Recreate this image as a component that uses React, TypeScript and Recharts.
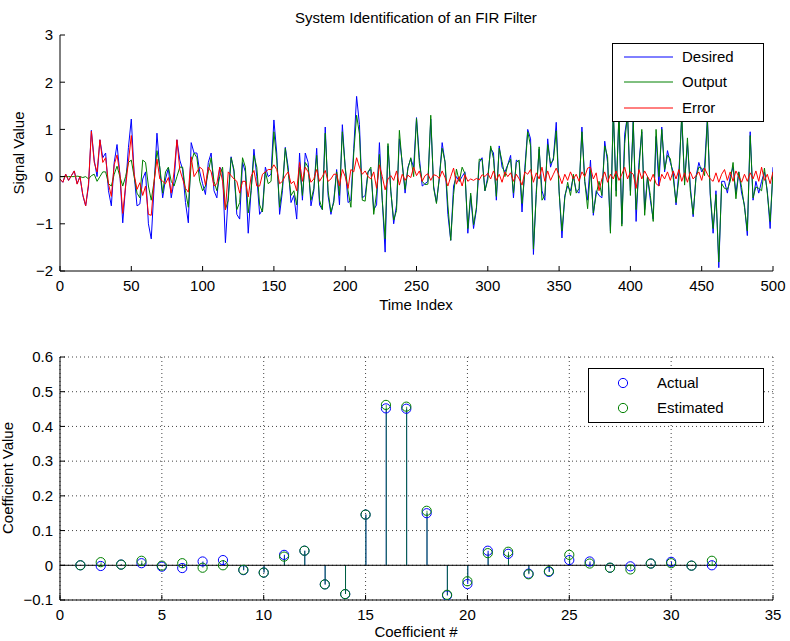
import React from 'react';
import {
  LineChart, Line, XAxis, YAxis, ComposedChart, Bar, Scatter, CartesianGrid, ReferenceLine,
} from 'recharts';

// sample index (every 2nd sample of the 500-sample run)
const timeIndex = Array.from({ length: 251 }, (_, i) => i * 2);

const desired = [
  -0.05, -0.12, 0.05, -0.08, 0.02, 0.12, -0.15, 0.0, -0.4, -0.62,
  -0.2, 0.98, 0.35, 0.0, 0.78, 0.4, 0.5, -0.3, -0.62, 0.3,
  0.68, 0.05, -0.98, -0.2, 0.62, 1.22, 0.05, -0.62, -0.58, -0.05,
  0.1, -1.0, -1.32, -0.2, 0.92, 0.15, -0.45, -0.05, 0.18, -0.45,
  -0.1, 0.78, 0.35, 0.15, -0.55, -0.98, 0.72, 0.5, 0.5, 0.1,
  -0.15, -0.38, 0.3, 0.5, -0.3, -0.45, 0.2, 0.1, -1.4, -0.4,
  0.42, 0.1, -0.8, -0.9, 0.3, 0.1, -1.2, -0.3, 0.58, 0.0,
  -0.8, -0.7, 0.2, 0.0, 0.05, 1.2, 0.5, -0.8, -0.3, 0.62,
  0.2, -0.55, -0.4, -0.9, 0.5, -0.5, 0.5, 0.3, -0.62, -0.3,
  0.6, -0.6, -0.7, 1.05, -0.4, -0.8, -0.5, 0.15, -0.6, 1.1,
  0.2, -0.55, -0.5, 0.6, 1.7, 1.1, -0.45, -0.4, 0.1, 0.15,
  -0.7, -0.6, 0.72, -0.5, -1.6, 0.65, -0.3, -1.0, -0.6, 0.8,
  0.3, -0.35, 0.2, 0.38, 0.2, 1.25, 0.4, -0.2, -0.15, -0.1,
  1.22, -0.2, -0.55, -0.05, 0.72, 0.3, -0.8, -1.35, -0.2, 0.0,
  -0.1, 0.0, 0.1, -1.2, -0.4, -1.1, -0.7, 0.3, 0.4, -0.3,
  0.0, 0.6, 0.5, -0.5, 0.65, 0.2, 0.1, 0.25, 0.45, -0.45,
  0.35, 0.3, -0.75, 0.2, 1.0, 0.8, -1.65, -0.3, 0.58, -0.3,
  -0.5, 0.8, 0.2, 0.4, 1.15, -0.3, -1.3, -0.4, -0.2, -0.3,
  0.0, -0.3, -0.35, 1.05, -0.1, -0.5, 0.35, -0.82, -0.3, -0.4,
  -0.45, 0.75, 0.3, -1.15, 1.4, -0.3, 1.3, -1.0, 0.9, 1.3,
  -0.3, 1.2, -0.95, 0.3, 0.95, -0.7, 0.0, -0.5, -0.9, 0.85,
  -0.2, 1.05, 0.1, 0.55, 0.3, 0.1, -0.6, 0.1, 1.25, -0.1,
  0.7, -0.2, -0.85, 0.0, 0.3, 0.1, 0.2, 1.25, -0.4, -1.2,
  -0.3, -1.93, -0.1, -0.1, -0.35, 0.0, 0.2, -0.35, 0.1, -0.35,
  -0.6, -1.25, 0.95, -0.5, -0.1, -0.35, -0.1, 0.1, -0.3, -1.1,
  0.2,
];

const output = [
  0, 0, 0, 0, 0, 0, 0.01, 0, -0.02, 0,
  -0.05, 0.02, 0.05, -0.1, 0, 0.1, 0.1, -0.15, -0.2, 0.05,
  0.22, 0, -0.2, 0, 0.3, 0.35, 0, -0.35, -0.45, 0.35,
  0.3, -0.2, -0.5, -0.1, 0.55, 0.2, -0.35, 0.1, 0.2, -0.1,
  -0.2, 0, 0.2, 0.2, -0.3, -0.65, 0.3, 0.5, 0.4, -0.1,
  -0.3, -0.2, 0.1, 0.4, -0.1, -0.3, 0.0, 0.2, -0.7, -0.5,
  0.4, 0.15, -0.7, -0.55, 0.4, 0.2, -0.77, -0.3, 0.45, 0.2,
  -0.6, -0.75, 0.1, -0.15, -0.1, 0.95, 0.35, -0.65, -0.2, 0.6,
  0.1, -0.4, -0.3, -0.6, 0.2, -0.4, 0.3, 0.2, -0.5, -0.25,
  0.45, -0.5, -0.7, 0.92, -0.3, -0.75, -0.55, 0.1, -0.4, 0.95,
  0.2, -0.3, -0.65, 0.5, 1.3, 0.9, -0.5, -0.52, 0.1, 0.2,
  -0.8, -0.35, 0.47, -0.5, -1.32, 0.7, -0.32, -0.92, -0.72, 0.98,
  0.25, -0.27, 0.17, 0.4, 0.0, 1.23, 0.28, -0.1, -0.17, -0.16,
  1.3, -0.24, -0.57, -0.01, 0.6, 0.32, -0.6, -1.35, -0.38, 0.16,
  -0.1, 0.2, 0.06, -1.1, -0.35, -1.02, -0.66, 0.37, 0.36, -0.3,
  -0.07, 0.65, 0.38, -0.42, 0.6, 0.32, 0.0, 0.25, 0.37, -0.35,
  0.3, 0.35, -0.57, 0.1, 0.95, 0.65, -1.53, -0.38, 0.63, -0.5,
  -0.4, 0.68, 0.28, 0.35, 0.97, -0.32, -1.15, -0.45, -0.12, -0.4,
  0.05, -0.35, -0.25, 0.95, -0.1, -0.68, 0.15, -0.77, -0.38, -0.1,
  -0.4, 0.65, 0.42, -1.2, 1.45, -0.42, 1.38, -1.05, 0.7, 1.35,
  -0.4, 1.15, -0.7, 0.15, 1.0, -0.82, 0.0, -0.4, -0.95, 1.0,
  0.0, 1.0, 0.15, 0.45, 0.38, -0.02, -0.55, -0.05, 1.35, -0.18,
  0.82, -0.3, -0.8, -0.02, 0.2, 0.18, 0.02, 1.2, -0.35, -1.1,
  -0.38, -1.81, -0.15, -0.25, -0.27, -0.1, 0.3, -0.47, 0.1, -0.23,
  -0.65, -1.15, 0.87, -0.45, -0.22, -0.25, -0.3, 0.18, -0.35, -0.95,
  0.1,
];

const error = [
  -0.05, -0.12, 0.05, -0.08, 0.02, 0.12, -0.16, 0, -0.38, -0.62,
  -0.15, 0.96, 0.3, 0.1, 0.78, 0.3, 0.4, -0.15, -0.42, 0.25,
  0.46, 0.05, -0.78, -0.2, 0.32, 0.87, 0.05, -0.27, -0.13, -0.4,
  -0.2, -0.8, -0.82, -0.1, 0.37, -0.05, -0.1, -0.15, -0.02, -0.35,
  0.1, 0.78, 0.15, -0.05, -0.25, -0.33, 0.42, 0, 0.1, 0.2,
  0.15, -0.18, 0.2, 0.1, -0.2, -0.15, 0.2, -0.1, -0.7, 0.1,
  0.02, -0.05, -0.1, -0.35, -0.1, -0.1, -0.43, 0, 0.13, -0.2,
  -0.2, 0.05, 0.1, 0.15, 0.15, 0.25, 0.15, -0.15, -0.1, 0.02,
  0.1, -0.15, -0.1, -0.3, 0.3, -0.1, 0.2, 0.1, -0.12, -0.05,
  0.15, -0.1, 0, 0.13, -0.1, -0.05, 0.05, 0.05, -0.2, 0.15,
  0, -0.25, 0.15, 0.1, 0.4, 0.2, 0.05, 0.12, 0, -0.05,
  0.1, -0.25, 0.25, 0, -0.28, -0.05, 0.02, -0.08, 0.12, -0.18,
  0.05, -0.08, 0.03, -0.02, 0.2, 0.02, 0.12, -0.1, 0.02, 0.06,
  -0.08, 0.04, 0.02, -0.04, 0.12, -0.02, -0.2, 0, 0.18, -0.16,
  0, -0.2, 0.04, -0.1, -0.05, -0.08, -0.04, -0.07, 0.04, 0,
  0.07, -0.05, 0.12, -0.08, 0.05, -0.12, 0.1, 0, 0.08, -0.1,
  0.05, -0.05, -0.18, 0.1, 0.05, 0.15, -0.12, 0.08, -0.05, 0.2,
  -0.1, 0.12, -0.08, 0.05, 0.18, 0.02, -0.15, 0.05, -0.08, 0.1,
  -0.05, 0.05, -0.1, 0.1, 0, 0.18, 0.2, -0.05, 0.08, -0.3,
  -0.05, 0.1, -0.12, 0.05, -0.05, 0.12, -0.08, 0.05, 0.2, -0.05,
  0.1, 0.05, -0.25, 0.15, -0.05, 0.12, 0, -0.1, 0.05, -0.15,
  -0.2, 0.05, -0.05, 0.1, -0.08, 0.12, -0.05, 0.15, -0.1, 0.08,
  -0.12, 0.1, -0.05, 0.02, 0.1, -0.08, 0.18, 0.05, -0.05, -0.1,
  0.08, -0.12, 0.05, 0.15, -0.08, 0.1, -0.1, 0.12, 0, -0.12,
  0.05, -0.1, 0.08, -0.05, 0.12, -0.1, 0.2, -0.08, 0.05, -0.15,
  0.1,
];

const coeffIndex = [1, 2, 3, 4, 5, 6, 7, 8, 9, 10, 11, 12, 13, 14, 15, 16, 17, 18, 19, 20, 21, 22, 23, 24, 25, 26, 27, 28, 29, 30, 31, 32];
const actual = [
  0, -0.002, 0.002, 0.006, -0.004, -0.008, 0.011, 0.015, -0.014, -0.021, 0.03, 0.042, -0.055, -0.083, 0.146, 0.452,
  0.451, 0.15, -0.087, -0.054, 0.042, 0.033, -0.024, -0.019, 0.015, 0.011, -0.007, -0.003, 0.005, 0.01, -0.001, 0,
];
const estimated = [
  0, 0.009, 0.002, 0.013, -0.001, 0.006, -0.007, 0, -0.013, -0.021, 0.025, 0.042, -0.055, -0.083, 0.146, 0.462,
  0.457, 0.157, -0.085, -0.046, 0.035, 0.039, -0.026, -0.017, 0.03, 0.005, -0.007, -0.012, 0.005, 0.006, -0.001, 0.013,
];

const timeTicks = [0, 50, 100, 150, 200, 250, 300, 350, 400, 450, 500];
const signalTicks = [-2, -1, 0, 1, 2, 3];
const coeffTicks = [0, 5, 10, 15, 20, 25, 30, 35];
const valueTicks = [-0.1, 0, 0.1, 0.2, 0.3, 0.4, 0.5, 0.6];

const FONT = '"Liberation Sans", Arial, Helvetica, sans-serif';
const BLUE = '#0000ff';
const GREEN = '#008000';
const RED = '#ff0000';
const tickStyle = { fontSize: 15, fill: '#000', fontFamily: FONT };
const noLabel = () => '';
const fmtSigned = (v: number) => (v < 0 ? '\u2212' + String(Math.abs(v)) : String(v));
const fmtCoef = (v: number) => {
  if (Math.abs(v) < 1e-9) return '0';
  const s = Math.abs(v).toFixed(1);
  return v < 0 ? '\u2212' + s : s;
};

const signalData = timeIndex.map((t, i) => ({ t, desired: desired[i], output: output[i], error: error[i] }));
const coeffData = coeffIndex.map((k, i) => ({ k, actual: actual[i], estimated: estimated[i] }));

const Ring = (color: string) => (props: any) => {
  const { cx, cy } = props;
  if (cx == null || cy == null) return null;
  return <circle cx={cx} cy={cy} r={4.6} fill="none" stroke={color} strokeWidth={1} />;
};

export default function App() {
  return (
    <div style={{ position: 'absolute', left: 0, top: 0, width: 790, height: 641, background: '#fff', fontFamily: FONT }}>
      <div style={{ position: 'absolute', left: 0, top: 0 }}>
        <LineChart width={790} height={320} data={signalData} margin={{ top: 35, right: 17, bottom: 19, left: 10 }}>
          <XAxis dataKey="t" type="number" domain={[0, 500]} ticks={timeTicks} height={30}
            tick={tickStyle} tickSize={-5} tickMargin={14} stroke="#000" allowDataOverflow />
          <XAxis xAxisId="top" orientation="top" dataKey="t" type="number" domain={[0, 500]} ticks={timeTicks}
            height={0} mirror tickSize={5} tickFormatter={noLabel} stroke="#000" />
          <YAxis type="number" domain={[-2, 3]} ticks={signalTicks} width={50} tick={tickStyle}
            tickSize={-5} tickMargin={12} tickFormatter={fmtSigned} stroke="#000" allowDataOverflow />
          <YAxis yAxisId="right" orientation="right" type="number" domain={[-2, 3]} ticks={signalTicks}
            width={0} mirror tickSize={5} tickFormatter={noLabel} stroke="#000" />
          <Line dataKey="desired" stroke={BLUE} strokeWidth={1} dot={false} isAnimationActive={false} />
          <Line dataKey="output" stroke={GREEN} strokeWidth={1} dot={false} isAnimationActive={false} />
          <Line dataKey="error" stroke={RED} strokeWidth={1} dot={false} isAnimationActive={false} />
        </LineChart>
      </div>
      <div style={{ position: 'absolute', left: 0, top: 320 }}>
        <ComposedChart width={790} height={321} data={coeffData} barGap={-1}
          margin={{ top: 37, right: 17, bottom: 11, left: 10 }}>
          <CartesianGrid strokeDasharray="1 3" stroke="#444" />
          <XAxis dataKey="k" type="number" domain={[0, 35]} ticks={coeffTicks} height={30}
            tick={tickStyle} tickSize={-5} tickMargin={14} stroke="#000" />
          <XAxis xAxisId="top" orientation="top" dataKey="k" type="number" domain={[0, 35]} ticks={coeffTicks}
            height={0} mirror tickSize={5} tickFormatter={noLabel} stroke="#000" />
          <YAxis type="number" domain={[-0.1, 0.6]} ticks={valueTicks} width={50} tick={tickStyle}
            tickSize={-5} tickMargin={12} tickFormatter={fmtCoef} stroke="#000" allowDataOverflow />
          <YAxis yAxisId="right" orientation="right" type="number" domain={[-0.1, 0.6]} ticks={valueTicks}
            width={0} mirror tickSize={5} tickFormatter={noLabel} stroke="#000" />
          <ReferenceLine y={0} stroke="#000" strokeWidth={1} />
          <Bar dataKey="actual" barSize={1} fill={BLUE} isAnimationActive={false} />
          <Bar dataKey="estimated" barSize={1} fill={GREEN} fillOpacity={0.75} isAnimationActive={false} />
          <Scatter dataKey="actual" shape={Ring(BLUE)} isAnimationActive={false} />
          <Scatter dataKey="estimated" shape={Ring(GREEN)} isAnimationActive={false} />
        </ComposedChart>
      </div>
      <svg width={790} height={641} style={{ position: 'absolute', left: 0, top: 0, pointerEvents: 'none' }}
        fontFamily={FONT} fontSize={15}>
        <text x={416} y={23} textAnchor="middle">System Identification of an FIR Filter</text>
        <text x={416} y={310} textAnchor="middle">Time Index</text>
        <text transform="translate(24,153) rotate(-90)" textAnchor="middle">Signal Value</text>
        <text x={416} y={637} textAnchor="middle">Coefficient #</text>
        <text transform="translate(13,478) rotate(-90)" textAnchor="middle">Coefficient Value</text>

        <rect x={612.5} y={43.5} width={151} height={78} fill="#fff" stroke="#000" />
        <line x1={624} x2={673} y1={57} y2={57} stroke={BLUE} />
        <text x={682} y={62}>Desired</text>
        <line x1={624} x2={673} y1={82} y2={82} stroke={GREEN} />
        <text x={682} y={87}>Output</text>
        <line x1={624} x2={673} y1={108} y2={108} stroke={RED} />
        <text x={682} y={113}>Error</text>

        <rect x={588.5} y={368.5} width={175} height={54} fill="#fff" stroke="#000" />
        <circle cx={623} cy={383} r={4.6} fill="none" stroke={BLUE} />
        <text x={657} y={388}>Actual</text>
        <circle cx={623} cy={408} r={4.6} fill="none" stroke={GREEN} />
        <text x={657} y={413}>Estimated</text>
      </svg>
    </div>
  );
}
